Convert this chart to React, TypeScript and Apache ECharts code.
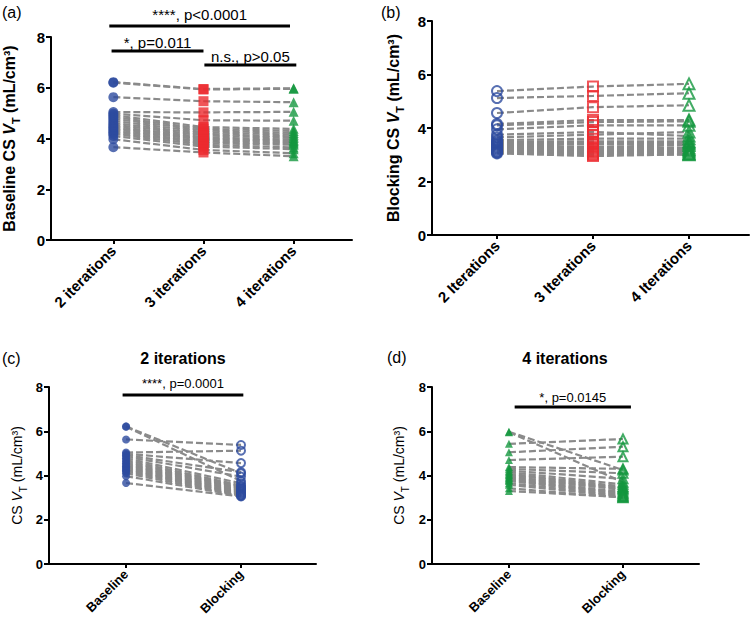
import React, { useEffect, useRef } from 'react';
import * as echarts from 'echarts';

// ---------- data ----------
const iterCatsA = ['2 iterations', '3 iterations', '4 iterations'];
const iterCatsB = ['2 Iterations', '3 Iterations', '4 Iterations'];
const condCats = ['Baseline', 'Blocking'];

// per-subject CS VT values (mL/cm3)
const baseline2 = [6.22, 6.2, 5.63, 5.04, 4.98, 4.92, 4.85, 4.78, 4.7, 4.62, 4.55, 4.48, 4.42, 4.36, 4.3, 4.24, 4.18, 4.1, 3.97, 3.66];
const baseline3 = [5.95, 5.93, 5.47, 5.03, 4.72, 4.45, 4.38, 4.32, 4.25, 4.18, 4.12, 4.05, 4.0, 3.95, 3.88, 3.82, 3.75, 3.68, 3.55, 3.45];
const baseline4 = [5.98, 5.96, 5.43, 5.05, 4.7, 4.38, 4.3, 4.22, 4.15, 4.08, 4.02, 3.95, 3.9, 3.85, 3.8, 3.75, 3.65, 3.58, 3.42, 3.3];
const blocking2 = [4.1, 3.75, 5.38, 5.12, 4.56, 4.15, 3.95, 3.65, 3.55, 3.5, 3.45, 3.4, 3.35, 3.3, 3.25, 3.2, 3.15, 3.1, 3.08, 3.05];
const blocking3 = [4.22, 3.85, 5.55, 5.2, 4.78, 4.3, 4.1, 3.75, 3.6, 3.5, 3.45, 3.4, 3.3, 3.25, 3.2, 3.15, 3.1, 3.05, 3.0, 2.95];
const blocking4 = [4.25, 3.7, 5.65, 5.3, 4.85, 4.3, 4.1, 3.85, 3.6, 3.5, 3.45, 3.4, 3.35, 3.25, 3.2, 3.15, 3.1, 3.05, 3.0, 3.02];

// ---------- style / layout ----------
const FONT = '"Liberation Sans", Arial, Helvetica, sans-serif';
const BLUE = '#2d4b9f';
const RED = '#ec2b30';
const GREEN = '#14973f';
const GRAY = '#8a8a8a';

const gridBoxes = [
  { left: 48, top: 37, width: 304, height: 203 },
  { left: 432, top: 21, width: 317, height: 214 },
  { left: 49, top: 387, width: 267, height: 177 },
  { left: 432, top: 387, width: 267, height: 177 },
];
const xRanges = [
  [-0.692, 2.648],
  [-0.677, 2.625],
  [-0.67, 1.652],
  [-0.675, 1.667],
];
const nameGaps = [30, 27, 21, 22];

const annotations = [
  { g: 0, x1: -0.045, x2: 1.96, y: 8.43, text: '****, p<0.0001', ty: 8.87, fs: 15 },
  { g: 0, x1: -0.02, x2: 1.0, y: 7.45, text: '*, p=0.011', ty: 7.8, fs: 15 },
  { g: 0, x1: 1.01, x2: 2.03, y: 6.9, text: 'n.s., p>0.05', ty: 7.25, fs: 15 },
  { g: 2, x1: -0.03, x2: 1.02, y: 7.64, text: '****, p=0.0001', ty: 8.18, fs: 13 },
  { g: 3, x1: 0.05, x2: 1.07, y: 7.1, text: '*, p=0.0145', ty: 7.52, fs: 13 },
];

function yName(prefix: string) {
  return `{b|${prefix}}{v|V}{s|T}{b| (mL/cm³)}`;
}

function nameRich(size: number, weight: string) {
  const base = { fontFamily: FONT, fontSize: size, fontWeight: weight, color: '#000', lineHeight: size + 8 };
  return {
    b: base,
    v: { ...base, fontStyle: 'italic' },
    s: { fontFamily: FONT, fontSize: Math.round(size * 0.68), fontWeight: weight, color: '#000', lineHeight: Math.round(size * 0.68), verticalAlign: 'bottom' },
  };
}

export default function App() {
  const ref = useRef<HTMLDivElement>(null);
  useEffect(() => {
    if (!ref.current) return;
    const chart = echarts.init(ref.current, undefined, { renderer: 'svg' });

    const catsFor = [iterCatsA, iterCatsB, condCats, condCats];
    const big = [true, true, false, false];

    const xAxis = gridBoxes.map((_, g) => ({
      type: 'value',
      gridIndex: g,
      min: xRanges[g][0],
      max: xRanges[g][1],
      axisLine: { show: true, onZero: false, lineStyle: { color: '#000', width: 2 } },
      splitLine: { show: false },
      axisTick: {
        show: true,
        customValues: catsFor[g].map((_, i) => i),
        length: 4,
        lineStyle: { color: '#000', width: 2 },
      },
      axisLabel: {
        customValues: catsFor[g].map((_, i) => i),
        formatter: (v: number) => catsFor[g][Math.round(v)] ?? '',
        rotate: 45,
        fontFamily: FONT,
        fontWeight: 'bold',
        fontSize: big[g] ? 15 : 13,
        color: '#000',
        margin: 8,
      },
    }));

    const yNames = [yName('Baseline CS '), yName('Blocking CS '), yName('CS '), yName('CS ')];
    const yAxis = gridBoxes.map((_, g) => ({
      type: 'value',
      gridIndex: g,
      min: 0,
      max: 8,
      interval: 2,
      axisLine: { show: true, onZero: false, lineStyle: { color: '#000', width: 2 } },
      axisTick: { show: true, length: 5, lineStyle: { color: '#000', width: 2 } },
      splitLine: { show: false },
      axisLabel: {
        fontFamily: FONT,
        fontWeight: 'bold',
        fontSize: big[g] ? 15 : 13,
        color: '#000',
        margin: 6,
      },
      name: yNames[g],
      nameLocation: 'middle',
      nameRotate: 90,
      nameGap: nameGaps[g],
      nameTextStyle: { rich: big[g] ? nameRich(16, 'bold') : nameRich(14, 'normal') },
    }));

    const series: any[] = [];
    const n = baseline2.length;
    const addLines = (g: number, cols: number[][]) => {
      for (let i = 0; i < n; i++) {
        series.push({
          type: 'line',
          xAxisIndex: g,
          yAxisIndex: g,
          data: cols.map((c, k) => [k, c[i]]),
          symbol: 'none',
          silent: true,
          lineStyle: { color: GRAY, width: 2.2, type: [7, 3] },
          z: 2,
        });
      }
    };
    const addMarks = (g: number, k: number, col: number[], symbol: string, size: number, color: string, hollow: boolean) => {
      series.push({
        type: 'scatter',
        xAxisIndex: g,
        yAxisIndex: g,
        data: col.map((v) => [k, v]),
        symbol,
        symbolSize: size,
        silent: true,
        itemStyle: hollow
          ? { color: 'rgba(255,255,255,0)', borderColor: color, borderWidth: 2 }
          : { color },
        z: 3,
      });
    };

    // (a)
    addLines(0, [baseline2, baseline3, baseline4]);
    addMarks(0, 0, baseline2, 'circle', 10, BLUE, false);
    addMarks(0, 1, baseline3, 'rect', 10, RED, false);
    addMarks(0, 2, baseline4, 'triangle', 10, GREEN, false);
    // (b)
    addLines(1, [blocking2, blocking3, blocking4]);
    addMarks(1, 0, blocking2, 'circle', 10, BLUE, true);
    addMarks(1, 1, blocking3, 'rect', 10, RED, true);
    addMarks(1, 2, blocking4, 'triangle', 11, GREEN, true);
    // (c)
    addLines(2, [baseline2, blocking2]);
    addMarks(2, 0, baseline2, 'circle', 8, BLUE, false);
    addMarks(2, 1, blocking2, 'circle', 8, BLUE, true);
    // (d)
    addLines(3, [baseline4, blocking4]);
    addMarks(3, 0, baseline4, 'triangle', 8, GREEN, false);
    addMarks(3, 1, blocking4, 'triangle', 9, GREEN, true);

    chart.setOption({
      animation: false,
      backgroundColor: '#fff',
      grid: gridBoxes.map((b) => ({ ...b, containLabel: false })),
      xAxis,
      yAxis,
      series,
    });

    const graphic: any[] = [];
    const label = (text: string, x: number, y: number, size: number, weight: string, align = 'left') => ({
      type: 'text',
      x,
      y,
      style: { text, fontFamily: FONT, fontSize: size, fontWeight: weight, fill: '#000', align, verticalAlign: 'middle' },
    });
    graphic.push(label('(a)', 2, 12, 16, 'normal'));
    graphic.push(label('(b)', 381, 12, 16, 'normal'));
    graphic.push(label('(c)', 2, 358, 16, 'normal'));
    graphic.push(label('(d)', 387, 357, 16, 'normal'));
    graphic.push(label('2 iterations', 183, 358, 16, 'bold', 'center'));
    graphic.push(label('4 iterations', 565, 358, 16, 'bold', 'center'));

    annotations.forEach((a) => {
      const p1 = chart.convertToPixel({ gridIndex: a.g }, [a.x1, a.y]) as number[];
      const p2 = chart.convertToPixel({ gridIndex: a.g }, [a.x2, a.y]) as number[];
      const pt = chart.convertToPixel({ gridIndex: a.g }, [(a.x1 + a.x2) / 2, a.ty]) as number[];
      graphic.push({
        type: 'line',
        shape: { x1: p1[0], y1: p1[1], x2: p2[0], y2: p2[1] },
        style: { stroke: '#000', lineWidth: 3 },
      });
      graphic.push(label(a.text, pt[0], pt[1], a.fs, 'normal', 'center'));
    });

    chart.setOption({ graphic });

    return () => chart.dispose();
  }, []);

  return <div ref={ref} style={{ position: 'fixed', left: 0, top: 0, width: 756, height: 622, background: '#fff' }} />;
}
